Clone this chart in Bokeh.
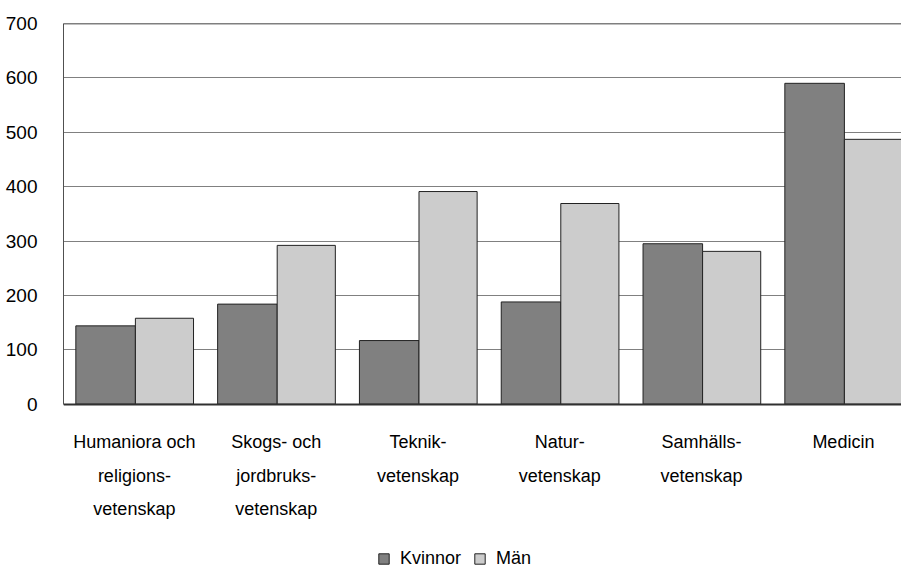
import numpy as np
from bokeh.plotting import figure
from bokeh.models import (ColumnDataSource, Range1d, FixedTicker, Span, Legend,
                          LegendItem)
from bokeh.embed import file_html
from bokeh.resources import INLINE

categories = ["Humaniora och\nreligions-\nvetenskap",
              "Skogs- och\njordbruks-\nvetenskap",
              "Teknik-\nvetenskap",
              "Natur-\nvetenskap",
              "Samhälls-\nvetenskap",
              "Medicin"]
kvinnor = [144, 184, 117, 188, 295, 590]
man = [158, 292, 391, 369, 281, 487]
y_ticks = [0, 100, 200, 300, 400, 500, 600, 700]

FONT = "Liberation Sans"

idx = np.arange(len(categories))
src_k = ColumnDataSource(dict(x=idx + 0.297, top=kvinnor))
src_m = ColumnDataSource(dict(x=idx + 0.712, top=man))

# frame spans the full lower part of the canvas so the legend fits inside;
# the x axis is pinned at y = 0
p = figure(width=901, height=569, output_backend="svg", toolbar_location=None,
           x_range=Range1d(0, 838 / 141.8), y_range=Range1d(-304, 700),
           min_border_left=63, min_border_right=0, min_border_top=23,
           min_border_bottom=0)
p.outline_line_color = None
p.background_fill_color = "white"
p.border_fill_color = "white"

rk = p.vbar(x="x", top="top", bottom=0, width=0.42, source=src_k,
            fill_color="#808080", line_color="#222222", line_width=1)
rm = p.vbar(x="x", top="top", bottom=0, width=0.41, source=src_m,
            fill_color="#cccccc", line_color="#222222", line_width=1)

p.add_layout(Span(location=700, dimension="width", line_color="black",
                  line_width=1.5))

# axes
p.xaxis.fixed_location = 0
p.xaxis.ticker = FixedTicker(ticks=list(idx + 0.5))
p.xaxis.major_label_overrides = {float(i + 0.5): c for i, c in enumerate(categories)}
p.xaxis.major_tick_line_color = None
p.xaxis.minor_tick_line_color = None
p.xaxis.axis_line_color = "#303030"
p.xaxis.axis_line_width = 2
p.xaxis.major_label_standoff = 22
p.xaxis.major_label_text_font = FONT
p.xaxis.major_label_text_font_size = "18px"
p.xaxis.major_label_text_color = "black"
p.xaxis.major_label_text_line_height = 1.68

p.yaxis.ticker = FixedTicker(ticks=y_ticks)
p.yaxis.bounds = (0, 700)
p.yaxis.major_tick_line_color = None
p.yaxis.minor_tick_line_color = None
p.yaxis.axis_line_color = "#505050"
p.yaxis.axis_line_width = 1
p.yaxis.major_label_standoff = 20
p.yaxis.major_label_text_font = FONT
p.yaxis.major_label_text_font_size = "19px"
p.yaxis.major_label_text_color = "black"

p.xgrid.grid_line_color = None
p.ygrid.grid_line_color = "#808080"
p.ygrid.grid_line_width = 1

legend = Legend(items=[LegendItem(label="Kvinnor", renderers=[rk]),
                       LegendItem(label="Män", renderers=[rm])],
                orientation="horizontal", location=(314, 0))
legend.padding = 0
legend.margin = 0
legend.spacing = 12
legend.glyph_width = 13
legend.glyph_height = 13
legend.label_standoff = 10
legend.label_text_font = FONT
legend.label_text_font_size = "18px"
legend.label_text_color = "black"
legend.border_line_color = None
legend.background_fill_color = None
p.add_layout(legend, "center")

open("out.html", "w").write(file_html(p, INLINE))
